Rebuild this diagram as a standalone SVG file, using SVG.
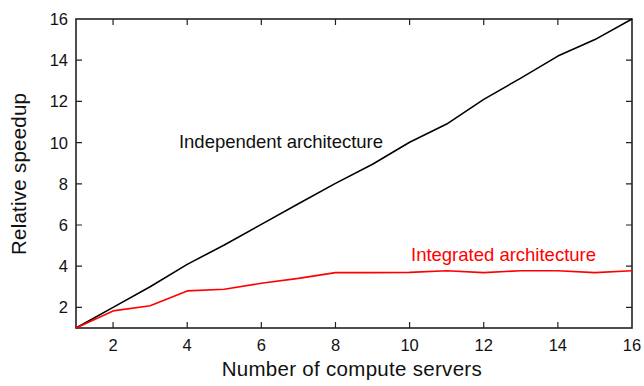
<svg xmlns="http://www.w3.org/2000/svg" width="644" height="386" viewBox="0 0 644 386">
<style>
text{font-family:"Liberation Sans",Arial,Helvetica,sans-serif;fill:#111}
.tick{font-size:16.5px}
.title{font-size:20.5px}
.lab{font-size:18.5px}
.axis{fill:none;stroke:#222;stroke-width:1.6}
.tk{stroke:#222;stroke-width:1.2}
.ser{fill:none;stroke-width:1.6;stroke-linejoin:round}
</style>
<rect width="644" height="386" fill="#fff"/>
<g id="axes">
<rect class="axis" x="76" y="19" width="556" height="309"/>
<g class="tk">
<path d="M113.07 328v-6M187.2 328v-6M261.33 328v-6M335.47 328v-6M409.6 328v-6M483.73 328v-6M557.87 328v-6"/>
<path d="M113.07 19v6M187.2 19v6M261.33 19v6M335.47 19v6M409.6 19v6M483.73 19v6M557.87 19v6"/>
<path d="M76 307.4h6M76 266.2h6M76 225h6M76 183.8h6M76 142.6h6M76 101.4h6M76 60.2h6"/>
<path d="M632 307.4h-6M632 266.2h-6M632 225h-6M632 183.8h-6M632 142.6h-6M632 101.4h-6M632 60.2h-6"/>
</g>
<g class="tick" text-anchor="end">
<text x="68" y="313.3">2</text>
<text x="68" y="272.1">4</text>
<text x="68" y="230.9">6</text>
<text x="68" y="189.7">8</text>
<text x="68" y="148.5">10</text>
<text x="68" y="107.3">12</text>
<text x="68" y="66.1">14</text>
<text x="68" y="24.9">16</text>
</g>
<g class="tick" text-anchor="middle">
<text x="113.07" y="350.9">2</text>
<text x="187.2" y="350.9">4</text>
<text x="261.33" y="350.9">6</text>
<text x="335.47" y="350.9">8</text>
<text x="409.6" y="350.9">10</text>
<text x="483.73" y="350.9">12</text>
<text x="557.87" y="350.9">14</text>
<text x="632" y="350.9">16</text>
</g>
<text class="title" x="351.7" y="375.5" text-anchor="middle" textLength="260" lengthAdjust="spacing">Number of compute servers</text>
<text class="title" transform="translate(25.5,174) rotate(-90)" text-anchor="middle" textLength="162" lengthAdjust="spacing">Relative speedup</text>
</g>
<g id="connectors">
<polyline id="independent" class="ser" stroke="#000" points="76,328 113.07,307.4 150.13,286.8 187.2,264.35 224.27,244.98 261.33,224.38 298.4,203.78 335.47,183.39 372.53,164.23 409.6,142.19 446.67,124.06 483.73,99.34 520.8,78.12 557.87,56.08 594.93,39.6 632,19"/>
<polyline id="integrated" class="ser" stroke="#ff0000" points="76,328 113.07,310.9 150.13,305.75 187.2,290.9 224.27,289.3 261.33,283.3 298.4,278.4 335.47,272.6 372.53,272.6 409.6,272.4 446.67,270.7 483.73,272.6 520.8,270.7 557.87,270.7 594.93,272.6 632,270.7"/>
</g>
<g id="label-independent">
<text class="lab" x="179" y="148.3" textLength="204" lengthAdjust="spacing">Independent architecture</text>
</g>
<g id="label-integrated">
<text class="lab" x="411" y="261" textLength="185" lengthAdjust="spacing" style="fill:#ff0000">Integrated architecture</text>
</g>
</svg>
